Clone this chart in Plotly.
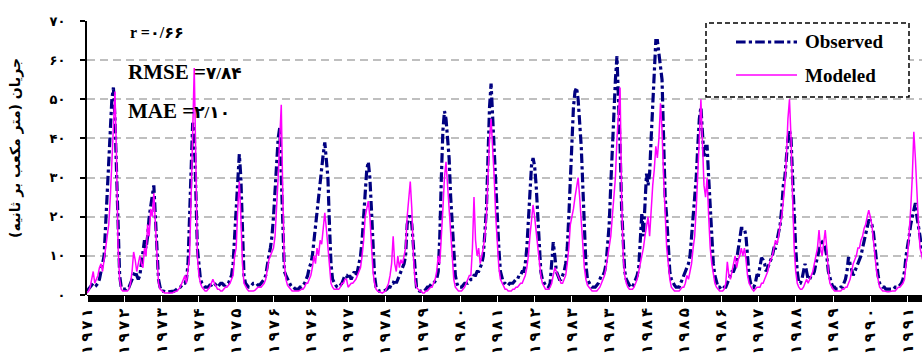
import numpy as np
import plotly.graph_objects as go

# Tick labels (Persian digits), one per tick interval (as in the source, 1976 and 1983 repeat)
year_labels = ["۱۹۷۱", "۱۹۷۲", "۱۹۷۳", "۱۹۷۴", "۱۹۷۵", "۱۹۷۶", "۱۹۷۶", "۱۹۷۷", "۱۹۷۸", "۱۹۷۹",
               "۱۹۸۰", "۱۹۸۱", "۱۹۸۲", "۱۹۸۳", "۱۹۸۳", "۱۹۸۴", "۱۹۸۵", "۱۹۸۶", "۱۹۸۷", "۱۹۸۸",
               "۱۹۸۹", "۱۹۹۰", "۱۹۹۱"]
y_tick_vals = [0, 10, 20, 30, 40, 50, 60, 70]
y_tick_text = ["۰", "۱۰", "۲۰", "۳۰", "۴۰", "۵۰", "۶۰", "۷۰"]
samples_per_interval = 24

# Observed flow (m3/s), 24 samples per tick interval
observed = [
    1,1.5,2,2.5,3,3,2.5,3,4,6,8,10,18,25,35,42,50,53,45,30,15,5,2,1.5,
    1.5,1.5,2,2,3,4,5,6,5,4,5,8,10,14,12,15,20,23,26,28,20,10,4,2,
    1,1,0.8,0.8,0.8,0.8,1,1,1,1.2,1.5,2,2,2.5,3,3,4,8,20,38,44,42,30,12,
    8,4,3,2.5,2,2,2,2.5,2.5,3,3,2.5,2,2.5,3,3,2.5,2.5,3,3,4,5,8,15,
    22,30,36,30,15,5,3,2.5,2,2,2.5,3,3,3,2.5,2.5,3,3.5,4,5,8,10,12,15,
    20,28,35,40,42.7,30,15,6,5,4,3,2.5,2,2,1.5,1.5,1.5,2,2,2.5,3,4,5,7,
    8,10,14,18,20,24,28,32,36,39,35,30,18,8,4,3,2.5,2,2,2.5,3,4,5,5,
    4,5,4,5,6,5,6,8,10,14,20,26,32,34,30,22,12,5,2,1.5,1,1,1,1.2,
    1.2,1.5,2,2,3,3,4,3,4,5,6,7,8,10,18,20,20,18,12,5,2,1.5,1,1,
    1,1,1.5,2,2,2.5,3,3,3.5,4,6,15,30,42,47,45,40,35,25,18,10,5,3,2,
    2,2,2.5,3,3,3,3.5,4,4,5,5,6,6,7,8,10,15,22,35,48,54,45,35,28,
    20,12,6,4,3,3,2.5,2.5,3,3,3,3.5,4,4,5,5,6,6,8,12,20,28,33,35,
    33,28,20,12,6,4,3,2.5,2.5,2,3,8,13.5,10,6,5,4,4,5,6,8,12,20,30,
    40,48,52,53,50,45,38,28,15,8,4,3,2.5,2,2,2,2.5,3,4,5,5,6,8,12,
    18,28,38,48,55,61,50,38,22,12,6,4,3,2.5,2,2,3,4,5,7,15,21,15,25,
    31,28,31,40,50,60,65,65,62,58,55,40,25,20,12,6,4,3,2.5,2,2,2,3,4,
    5,6,7,8,10,14,20,25,30,38,45,48,42,35,38,38,30,22,12,8,5,3,2,2,
    1.5,1.5,2,2,3,4,5,6,6,7,9,12,15,17,17,17,15,10,5,3,2.5,2,3,5,
    5,8,9.5,9,8,6,7,8,9,10,12,12,14,16,18,22,28,30,35,40,42,40,30,20,
    12,6,3,3,4,6,8,6,4,4,5,5,6,8,10,12,13,13.5,13,12,10,6,4,3,
    2,2,1.5,1.5,1.5,2,2,3,4,6,9.7,8,6,5,6,7,8,9,10,12,14,15,17,19,
    19,18,16,12,8,5,3,2.5,2,2,1.5,1.5,1.5,1.5,1.5,1.5,2,2,2,2.5,3,4,6,10,
    12,15,18,20,22,23.5,20,18,15,12,10,8,6,5,4,3,3,2.5,2.5,2,2,2,2,2,
]

# Modeled flow (m3/s), same sampling
modeled = [
    0.5,1,2,4,6,3,4,5,7,8,6,9,12,14,18,25,35,46,52,35,12,4,1.5,1,
    1,1,1,1.5,3,6,11,9,6,8,10,8,7,12,10,18,15,22,20,26,18,8,3,1.5,
    1,0.8,0.5,0.5,0.5,0.5,0.5,0.5,0.8,1,1,1.5,2,3,4,5,3,6,10,25,45,58,35,10,
    5,3,2,1.5,1,1,1.5,2,3,4,3,2,1.5,1.5,1,1,1.5,2,2,2.5,3,4,5,10,
    12,22,29,20,8,3,2,1.5,1,1,1,1,1.2,1.5,2,2,2,2.5,3,4,6,9,10,11,
    12,15,22,30,40,48.6,25,8,4,2.5,2,1.5,1,1,1,1,1,1.2,1.5,1.5,2,3,3,4,
    5,7,10,8,12,10,14,13,18,21,17,12,6,3,2,1.5,1.5,1.5,1.5,2,3,3,4,4,
    2,2.5,3,3,3.5,4,5,6,7,10,14,20,22,24,20,12,6,3,1.5,1,0.8,0.5,0.5,0.8,
    1,2,3,5,8,15,8,6,10,7,9,8,10,12,20,25,29,22,10,4,2,1.5,1,1,
    0.5,0.5,1,1,1.5,2,2,3,4,6,10,8,14,22,30,34,28,22,15,8,4,2,1.5,1,
    1,1,1.5,2,3,4,5,5,12,25,14,10,12,8,10,12,15,20,30,40,45,38,30,20,
    12,7,4,3,2,1.5,1.5,1,1,1,1.5,1.5,2,2,2.5,3,3,4,5,7,10,15,20,23,
    20,16,12,8,5,3,2,1.5,1.5,1.5,2,3,5,7,6,5,4,3,3,4,5,8,12,18,
    20,22,25,28,30,25,18,12,7,4,2.5,2,1.5,1,1,1,1,1.5,2,3,4,5,7,10,
    12,15,20,25,30,40,48,53,25,10,5,3,2,1.5,1.5,1.5,2,3,4,6,8,10,12,15,
    18,20,15,22,28,32,38,35,40,49,42,30,20,12,8,4,2,1.5,1,1,1,1,1.5,2,
    2,3,5,4,6,8,12,15,22,30,40,50,38,28,25,30,20,12,8,5,3,2,1.5,1,
    1,1,1.5,3,8.5,5,4,6,8,10,7,9,10,12,10,12,9,5,3,2,1.5,1,1.5,2,
    2,2,3,3,4,5,6,8,9,10,12,14,13,15,18,20,24,28,35,45,50,40,25,12,
    6,3,2,1.5,1.5,2,3,4,3,4,5,6,8,10,12,16.6,12,10,14,16.6,12,6,3,2,
    1.5,1,1,1,1,1,1.5,1.5,2,2,3,4,6,8,9,10,12,12,14,15,17,18,20,21.7,
    20,18,14,10,6,4,2,1.5,1,1,0.8,0.8,0.8,1,1,1,1,1.5,2,2,2.5,3,4,8,
    10,15,22,30,41.7,35,25,18,12,10,8,6,5,4,3,2,2,1.5,1.5,1,1,1,1,1,
]

x = np.arange(len(observed)) / samples_per_interval
tick_positions = list(range(len(year_labels)))

W, H = 922, 358
L, R, T, B = 87, 0, 21, 63
PW, PH = W - L - R, H - T - B
X_MAX = PW / 37.3


def px(X):
    return (X - L) / PW


def py(Y):
    return (T + PH - Y) / PH


SERIF = "Liberation Serif, DejaVu Sans, serif"
FA = "DejaVu Sans, Noto Sans, sans-serif"
NAVY = "#000080"
MAGENTA = "#FF00FF"

fig = go.Figure()
fig.add_trace(go.Scatter(x=x, y=observed, mode="lines", name="Observed",
                         line=dict(color=NAVY, width=3.2, dash="dashdot"), showlegend=False))
fig.add_trace(go.Scatter(x=x, y=modeled, mode="lines", name="Modeled",
                         line=dict(color=MAGENTA, width=1.5), showlegend=False))

fig.update_layout(
    width=W, height=H,
    margin=dict(l=L, r=R, t=T, b=B, pad=0),
    paper_bgcolor="white", plot_bgcolor="white",
    xaxis=dict(range=[0, X_MAX], tickmode="array", tickvals=tick_positions,
               ticks="outside", ticklen=7, tickwidth=1, tickcolor="white",
               showticklabels=False, showgrid=False, zeroline=False, showline=False),
    yaxis=dict(range=[0, 70], tickmode="array", tickvals=y_tick_vals, ticktext=y_tick_text,
               ticks="outside", ticklen=5, tickwidth=2, tickcolor="black",
               showline=True, linecolor="black", linewidth=2,
               showgrid=True, gridcolor="#BFBFBF", gridwidth=1.5, griddash="8px,5px",
               zeroline=False, ticklabelstandoff=12,
               tickfont=dict(family=FA, size=13, color="black", weight="bold")),
)

shapes = [
    # dense x-axis tick band
    dict(type="rect", xref="paper", yref="paper", x0=0, x1=1, y0=py(302), y1=0,
         fillcolor="black", line=dict(width=0), layer="below"),
    # legend box
    dict(type="rect", xref="paper", yref="paper", x0=px(706), x1=px(909), y0=py(97), y1=py(23),
         fillcolor="white", line=dict(color="black", width=1.5, dash="5px,3px"), layer="above"),
    dict(type="line", xref="paper", yref="paper", x0=px(736), x1=px(797), y0=py(42), y1=py(42),
         line=dict(color=NAVY, width=3.2, dash="dashdot"), layer="above"),
    dict(type="line", xref="paper", yref="paper", x0=px(736), x1=px(797), y0=py(75), y1=py(75),
         line=dict(color=MAGENTA, width=1.5), layer="above"),
]
fig.update_layout(shapes=shapes)

ann = [
    dict(text="Observed", x=px(803), y=py(42), xanchor="left", yanchor="middle",
         font=dict(family=SERIF, size=19, color="black", weight="bold")),
    dict(text="Modeled", x=px(803), y=py(75), xanchor="left", yanchor="middle",
         font=dict(family=SERIF, size=19, color="black", weight="bold")),
    dict(text="r =۰/۶۶", x=px(128), y=py(33), xanchor="left", yanchor="middle",
         font=dict(family=SERIF, size=16, color="black", weight="bold")),
    dict(text="RMSE =<span style='font-size:17px'>۷/۸۴</span>", x=px(126), y=py(72),
         xanchor="left", yanchor="middle",
         font=dict(family=SERIF, size=21, color="black", weight="bold")),
    dict(text="MAE =<span style='font-size:17px'>۲/۱۰</span>", x=px(126), y=py(111),
         xanchor="left", yanchor="middle",
         font=dict(family=SERIF, size=21, color="black", weight="bold")),
    dict(text="\u200fجریان (متر مکعب بر ثانیه)\u200f", x=px(15), y=py(148),
         xanchor="center", yanchor="middle", textangle=-90,
         font=dict(family=FA, size=14, color="black", weight="bold")),
]

# rotated year labels under each tick (x placed through the axis range)
for pos, lab in zip(tick_positions, year_labels):
    ann.append(dict(text="\u200e" + "\u2009".join(lab) + "\u200e", x=pos / X_MAX, y=py(306),
                    xanchor="center", yanchor="top", textangle=-90,
                    font=dict(family=FA, size=15, color="black", weight="bold")))
for a in ann:
    a.update(xref="paper", yref="paper", showarrow=False)
fig.update_layout(annotations=ann)

fig.write_html("out.html")
